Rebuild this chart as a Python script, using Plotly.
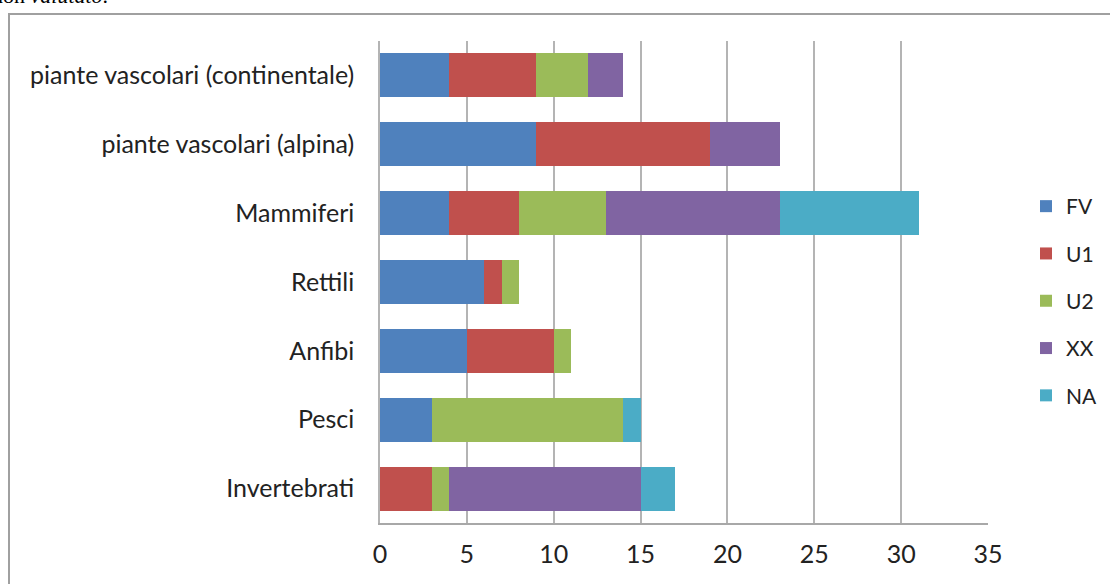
import plotly.graph_objects as go

categories = ["piante vascolari (continentale)", "piante vascolari (alpina)", "Mammiferi",
              "Rettili", "Anfibi", "Pesci", "Invertebrati"]
series_names = ["FV", "U1", "U2", "XX", "NA"]
FV = [4, 9, 4, 6, 5, 3, 0]
U1 = [5, 10, 4, 1, 5, 0, 3]
U2 = [3, 0, 5, 1, 1, 11, 1]
XX = [2, 4, 10, 0, 0, 0, 11]
NA = [0, 0, 8, 0, 0, 1, 2]
colors = ["#4F81BD", "#C0504D", "#9BBB59", "#8064A2", "#4BACC6"]
x_ticks = [0, 5, 10, 15, 20, 25, 30, 35]

FONT = "Lato"
fig = go.Figure()
for name, vals, col in zip(series_names, [FV, U1, U2, XX, NA], colors):
    fig.add_trace(go.Bar(y=categories, x=vals, name=name, orientation="h",
                         marker=dict(color=col, line=dict(width=0)),
                         legendgroup=name))

W, H = 1110, 584
L, R, T, B = 380, 122, 41, 61
pw, ph = W - L - R, H - T - B

def px_x(p):
    return (p - L) / pw

def px_y(p):
    return (H - B - p) / ph

fig.update_layout(
    width=W, height=H,
    margin=dict(l=L, r=R, t=T, b=B, autoexpand=False),
    barmode="stack", bargap=0.36,
    plot_bgcolor="white", paper_bgcolor="white",
    font=dict(family=FONT, size=25, color="#222222"),
    showlegend=True,
    legend=dict(x=px_x(1026), y=px_y(186), xanchor="left", yanchor="top",
                traceorder="grouped", tracegroupgap=17,
                font=dict(size=21, family=FONT, color="#222222"),
                itemwidth=30, bgcolor="rgba(0,0,0,0)"),
    xaxis=dict(range=[0, 35], tickvals=x_ticks, showgrid=True, gridcolor="#B4B4B4",
               gridwidth=1.5, zeroline=False, showline=True, linecolor="#A8A8A8",
               linewidth=1.5, ticks="", ticklabelstandoff=8,
               tickfont=dict(size=25, family=FONT, color="#222222")),
    yaxis=dict(autorange="reversed", showgrid=False, showline=True, linecolor="#B4B4B4",
               linewidth=1.5, ticks="", ticklabelstandoff=19,
               tickfont=dict(size=25, family=FONT, color="#222222")),
    shapes=[dict(type="rect", xref="paper", yref="paper",
                 x0=px_x(9), x1=px_x(1130), y0=px_y(600), y1=px_y(14),
                 line=dict(color="#A0A0A0", width=2), fillcolor="rgba(0,0,0,0)", layer="below")],
    annotations=[dict(xref="paper", yref="paper", x=px_x(-10), y=px_y(10), xanchor="left",
                      yanchor="bottom", showarrow=False,
                      text="non <i>valutato</i>.", font=dict(size=22, family="Liberation Serif",
                                                             color="#000000"))],
)

fig.write_html("out.html", config={"displayModeBar": False})

with open("out.html", "r", encoding="utf-8") as f:
    html = f.read()
html = html.replace("<head>", "<head><style>html,body{margin:0;padding:0;overflow:hidden}</style>", 1)
with open("out.html", "w", encoding="utf-8") as f:
    f.write(html)
